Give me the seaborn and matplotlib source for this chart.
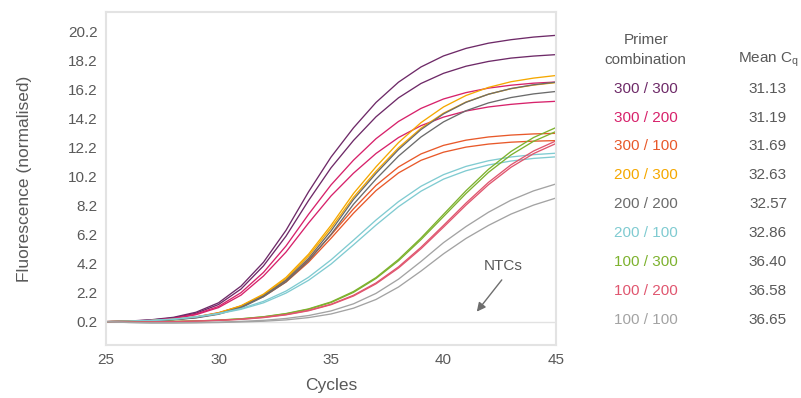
import matplotlib
matplotlib.use("Agg")
import matplotlib.pyplot as plt
import matplotlib.ticker as ticker
import pandas as pd
import seaborn as sns

# Data
cycles = list(range(25, 46))

combos = ["300 / 300", "300 / 200", "300 / 100", "200 / 300", "200 / 200",
          "200 / 100", "100 / 300", "100 / 200", "100 / 100"]
mean_cq = ["31.13", "31.19", "31.69", "32.63", "32.57",
           "32.86", "36.40", "36.58", "36.65"]
colours = ["#6e2a68", "#d7226b", "#e8592a", "#f5a800", "#6b6b6b",
           "#80cbd1", "#7db22e", "#e0566f", "#a3a3a3"]

x_ticks = [25, 30, 35, 40, 45]
y_ticks = [0.2, 2.2, 4.2, 6.2, 8.2, 10.2, 12.2, 14.2, 16.2, 18.2, 20.2]

# two replicate wells per primer combination (normalised fluorescence per cycle)
p300_300_a = [0.2, 0.24, 0.33, 0.5, 0.85, 1.5, 2.65, 4.3, 6.5, 9.15, 11.55,
              13.57, 15.32, 16.72, 17.77, 18.53, 19.05, 19.41, 19.65, 19.83, 19.95]
p300_300_b = [0.2, 0.23, 0.31, 0.46, 0.78, 1.38, 2.45, 4.05, 6.1, 8.55, 10.81,
              12.7, 14.33, 15.64, 16.63, 17.33, 17.82, 18.15, 18.38, 18.52, 18.62]
p300_200_a = [0.2, 0.22, 0.29, 0.42, 0.72, 1.25, 2.2, 3.6, 5.42, 7.6, 9.63,
              11.34, 12.82, 14.01, 14.91, 15.56, 16.0, 16.31, 16.51, 16.65, 16.73]
p300_200_b = [0.2, 0.22, 0.28, 0.4, 0.68, 1.17, 2.03, 3.35, 5.0, 7.0, 8.87,
              10.44, 11.8, 12.9, 13.72, 14.31, 14.73, 15.01, 15.19, 15.32, 15.4]
p300_100_a = [0.2, 0.22, 0.27, 0.36, 0.53, 0.82, 1.28, 2.0, 3.04, 4.47, 6.18,
              7.98, 9.6, 10.87, 11.77, 12.36, 12.72, 12.94, 13.07, 13.15, 13.19]
p300_100_b = [0.2, 0.22, 0.27, 0.35, 0.51, 0.79, 1.23, 1.93, 2.93, 4.3, 5.95,
              7.68, 9.24, 10.46, 11.33, 11.89, 12.24, 12.45, 12.58, 12.65, 12.69]
p200_300_a = [0.2, 0.22, 0.27, 0.36, 0.52, 0.8, 1.3, 2.1, 3.25, 4.85, 6.84,
              9.04, 10.88, 12.55, 13.93, 15.01, 15.8, 16.36, 16.75, 17.0, 17.18]
p200_300_b = [0.2, 0.22, 0.27, 0.35, 0.5, 0.78, 1.27, 2.05, 3.16, 4.72, 6.65,
              8.78, 10.57, 12.19, 13.54, 14.58, 15.35, 15.89, 16.27, 16.52, 16.69]
p200_200_a = [0.2, 0.21, 0.26, 0.34, 0.48, 0.74, 1.2, 1.98, 3.06, 4.56, 6.46,
              8.63, 10.43, 12.07, 13.45, 14.53, 15.33, 15.89, 16.28, 16.54, 16.72]
p200_200_b = [0.2, 0.21, 0.25, 0.33, 0.46, 0.71, 1.15, 1.92, 2.95, 4.39, 6.22,
              8.3, 10.03, 11.62, 12.94, 13.98, 14.75, 15.29, 15.66, 15.91, 16.08]
p200_100_a = [0.2, 0.23, 0.29, 0.38, 0.54, 0.77, 1.1, 1.6, 2.31, 3.26, 4.46,
              5.82, 7.21, 8.48, 9.54, 10.34, 10.91, 11.3, 11.56, 11.72, 11.82]
p200_100_b = [0.2, 0.22, 0.28, 0.36, 0.52, 0.74, 1.05, 1.5, 2.17, 3.05, 4.17,
              5.5, 6.86, 8.13, 9.2, 10.03, 10.61, 11.01, 11.28, 11.46, 11.57]
p100_300_a = [0.2, 0.18, 0.19, 0.21, 0.25, 0.31, 0.4, 0.54, 0.76, 1.08, 1.56,
              2.28, 3.24, 4.49, 5.97, 7.6, 9.23, 10.71, 11.94, 12.9, 13.59]
p100_300_b = [0.2, 0.18, 0.19, 0.21, 0.25, 0.3, 0.39, 0.53, 0.74, 1.05, 1.52,
              2.22, 3.18, 4.4, 5.86, 7.45, 9.04, 10.5, 11.7, 12.64, 13.32]
p100_200_a = [0.2, 0.17, 0.18, 0.2, 0.24, 0.29, 0.37, 0.5, 0.69, 0.98, 1.4,
              2.02, 2.87, 3.98, 5.33, 6.84, 8.38, 9.81, 11.02, 11.97, 12.67]
p100_200_b = [0.2, 0.17, 0.18, 0.2, 0.23, 0.29, 0.36, 0.48, 0.67, 0.95, 1.37,
              1.97, 2.81, 3.9, 5.23, 6.72, 8.24, 9.65, 10.85, 11.79, 12.49]
p100_100_a = [0.2, 0.15, 0.12, 0.12, 0.14, 0.17, 0.22, 0.29, 0.42, 0.62, 0.94,
              1.43, 2.15, 3.13, 4.35, 5.65, 6.76, 7.75, 8.58, 9.22, 9.7]
p100_100_b = [0.2, 0.14, 0.11, 0.11, 0.12, 0.14, 0.18, 0.23, 0.32, 0.48, 0.73,
              1.13, 1.73, 2.59, 3.69, 4.88, 5.94, 6.84, 7.62, 8.24, 8.73]

wells = [
    (p300_300_a, p300_300_b), (p300_200_a, p300_200_b), (p300_100_a, p300_100_b),
    (p200_300_a, p200_300_b), (p200_200_a, p200_200_b), (p200_100_a, p200_100_b),
    (p100_300_a, p100_300_b), (p100_200_a, p100_200_b), (p100_100_a, p100_100_b),
]

rows = []
for combo, reps in zip(combos, wells):
    for r, values in zip("ab", reps):
        for c, v in zip(cycles, values):
            rows.append({"combo": combo, "well": f"{combo}{r}", "cycle": c, "fluor": v})
df = pd.DataFrame(rows)

sns.set_theme(style="white")
plt.rcParams["font.family"] = ["Liberation Sans", "DejaVu Sans"]
plt.rcParams["mathtext.fontset"] = "custom"
plt.rcParams["mathtext.rm"] = "Liberation Sans"

grey_text = "#595959"

fig = plt.figure(figsize=(8.01, 3.98), dpi=100)
ax = fig.add_axes([106 / 801, 1 - 345 / 398, 450 / 801, 333 / 398])

ax.axhline(0.2, color="#e2e2e2", lw=1.0, zorder=0)

sns.lineplot(
    data=df, x="cycle", y="fluor", hue="combo", units="well",
    estimator=None, hue_order=combos, palette=dict(zip(combos, colours)),
    legend=False, linewidth=0.95, ax=ax,
)

ax.set_xlim(25, 45)
ax.set_ylim(-1.41, 21.56)
ax.set_xticks(x_ticks)
ax.set_yticks(y_ticks)
ax.yaxis.set_major_formatter(ticker.FormatStrFormatter("%.1f"))
ax.tick_params(axis="y", length=0, pad=6, labelsize=11, labelcolor=grey_text)
ax.tick_params(axis="x", length=0, pad=6, labelsize=11, labelcolor=grey_text)
for spine in ax.spines.values():
    spine.set_color("#e3e3e3")
    spine.set_linewidth(1.5)

ax.set_xlabel("Cycles", fontsize=12.5, color=grey_text)
ax.xaxis.set_label_coords(0.5, -0.10)
ax.set_ylabel("Fluorescence (normalised)", fontsize=12.5, color=grey_text)
ax.yaxis.set_label_coords(-0.165, 0.5)

# NTC annotation
ax.text(42.64, 4.04, "NTCs", ha="center", va="center", fontsize=11, color=grey_text)
ax.annotate("", xy=(41.48, 0.89), xytext=(42.59, 3.08),
            arrowprops=dict(arrowstyle="-|>", color="#6e6e6e", lw=1.0,
                            mutation_scale=13, shrinkA=0, shrinkB=0))

# table of primer combinations and mean Cq
col1, col2 = 645.7 / 801, 768 / 801
fig.text(col1, 1 - 40 / 398, "Primer", ha="center", va="center", fontsize=11, color=grey_text)
fig.text(col1, 1 - 59.5 / 398, "combination", ha="center", va="center", fontsize=11, color=grey_text)
fig.text(col2, 1 - 59.5 / 398, r"Mean C$_\mathregular{q}$", ha="center", va="center",
         fontsize=11, color=grey_text)
for i, (combo, cq, col) in enumerate(zip(combos, mean_cq, colours)):
    y = 1 - (88.7 + i * 28.9) / 398
    fig.text(col1, y, combo, ha="center", va="center", fontsize=11, color=col)
    fig.text(col2, y, cq, ha="center", va="center", fontsize=11, color=grey_text)

fig.savefig("out.png", dpi=100)
